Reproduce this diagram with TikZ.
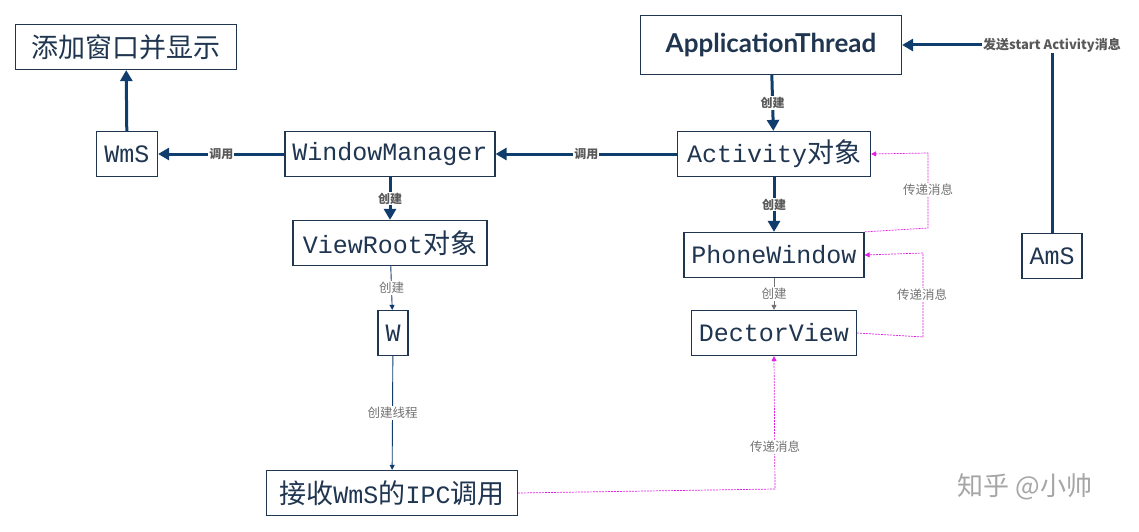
\documentclass[tikz,border=0pt]{standalone}
\usepackage{fontspec}
\setmainfont{Liberation Mono}
\newfontfamily\cjk{Noto Sans CJK SC}
\newfontfamily\lab{Noto Sans CJK SC}
\newfontfamily\thr{Lato}
\usetikzlibrary{arrows.meta}
\definecolor{navy}{HTML}{0F3D6E}
\definecolor{boxtxt}{HTML}{1F3550}
\definecolor{msg}{HTML}{E020E0}
\newcommand{\cn}[1]{{\cjk\fontsize{27}{27}\selectfont #1}}

\begin{document}
\begin{tikzpicture}[x=1pt,y=-1pt]
    \tikzstyle{box}=[draw=boxtxt, line width=1.2pt, text=boxtxt, inner sep=0pt, minimum height=45, font=\fontsize{25}{25}\selectfont]
    \tikzstyle{thick}=[draw=navy, line width=3pt, -{Triangle[length=11pt,width=12pt]}]
    \tikzstyle{thin}=[draw=navy, line width=0.9pt, -{Triangle[length=5pt,width=5pt]}]
    \tikzstyle{pass}=[draw=msg, line width=0.7pt, dashed, dash pattern=on 2pt off 1pt, -{Triangle[length=5pt,width=5pt]}]
    \tikzstyle{blab}=[fill=white, inner sep=1pt, text=black!65, font=\lab\bfseries\fontsize{12}{12}\selectfont]
    \tikzstyle{tlab}=[fill=white, inner sep=1pt, text=black!55, font=\lab\fontsize{12.5}{12.5}\selectfont]
    \useasboundingbox (0,0) rectangle (1139,532);
    \fill[white] (0,0) rectangle (1139,532);
    % left column
    \node[box, minimum width=221] (show) at (126,47) {\cn{添加窗口并显示}};
    \node[box, minimum width=61] (wms) at (127,154) {WmS};
    \node[box, minimum width=210] (wm) at (390,154) {WindowManager};
    \node[box, minimum width=194] (viewroot) at (390,243) {ViewRoot\cn{对象}};
    \node[box, minimum width=30] (w) at (393,333) {W};
    \node[box, minimum width=251] (ipc) at (392,493) {\cn{接收}WmS\cn{的}IPC\cn{调用}};
    % right column
    \node[box, minimum width=261, minimum height=59, font=\thr\bfseries\fontsize{26}{26}\selectfont] (appthread) at (771,45) {ApplicationThread};
    \node[box, minimum width=193] (activity) at (774,154) {Activity\cn{对象}};
    \node[box, minimum width=180] (phone) at (774,255) {PhoneWindow};
    \node[box, minimum width=165] (decor) at (774,333) {DectorView};
    \node[box, minimum width=60] (ams) at (1052,256) {AmS};
    \coordinate (turn) at (1052,45);
    % thick calls
    \draw[thick] (wms) -- (show);
    \draw[thick] (wm) -- node[blab]{调用} (wms);
    \draw[thick] (activity) -- node[blab]{调用} (wm);
    \draw[thick] (wm) -- node[blab]{创建} (viewroot);
    \draw[thick] (appthread) -- node[blab]{创建} (activity);
    \draw[thick] (activity) -- node[blab]{创建} (phone);
    \draw[thick] (ams) -- (turn) -- (appthread.east);
    \node[blab, font=\lab\bfseries\fontsize{13}{13}\selectfont] at (turn) {发送start Activity消息};
    % thin
    \draw[thin] (viewroot) -- node[tlab]{创建} (w);
    \draw[thin] (w) -- node[tlab]{创建线程} (ipc);
    \draw[thin, draw=black!55] (phone) -- node[tlab]{创建} (decor);
    % messages
    \draw[pass] (phone.north east) -- (928,228) -- (928,153) -- (activity.east);
    \node[tlab] at (928,190) {传递消息};
    \draw[pass] (decor.east) -- (923,337) -- (923,253) -- (phone.east);
    \node[tlab] at (922,295) {传递消息};
    \draw[pass] (ipc.east) -- (775,489) -- (decor.south);
    \node[tlab] at (775,447) {传递消息};
    % watermark
    \node[text=black!35, font=\cjk\fontsize{26}{26}\selectfont] (mark) at (1025,487) {知乎 @小帅};
\end{tikzpicture}
\end{document}
